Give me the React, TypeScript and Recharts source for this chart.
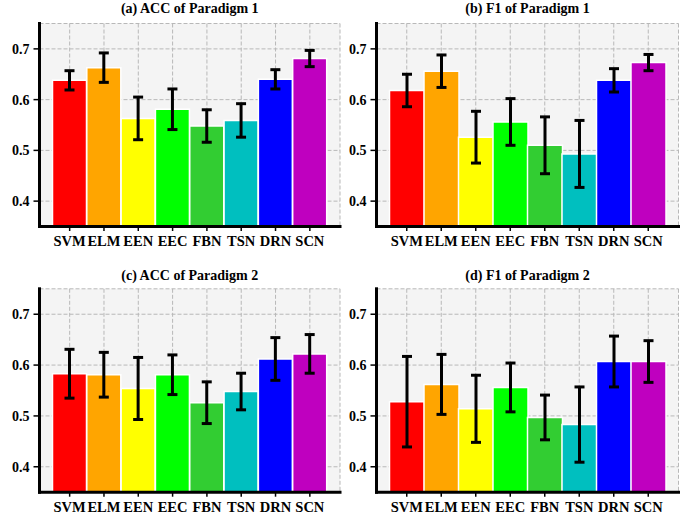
import React from 'react';
import { BarChart, Bar, XAxis, YAxis, CartesianGrid, ErrorBar, Cell } from 'recharts';

const categories = ['SVM', 'ELM', 'EEN', 'EEC', 'FBN', 'TSN', 'DRN', 'SCN'];
const barColors = ['#ff0000', '#ffa500', '#ffff00', '#00ff00', '#32cd32', '#00bfbf', '#0000ff', '#bf00bf'];

const accP1 = [0.638, 0.663, 0.563, 0.581, 0.548, 0.559, 0.640, 0.681];
const accP1Err = [0.019, 0.029, 0.042, 0.040, 0.032, 0.033, 0.019, 0.016];
const f1P1 = [0.618, 0.656, 0.526, 0.556, 0.510, 0.493, 0.638, 0.673];
const f1P1Err = [0.032, 0.032, 0.051, 0.046, 0.056, 0.066, 0.023, 0.016];
const accP2 = [0.583, 0.581, 0.554, 0.581, 0.526, 0.548, 0.612, 0.622];
const accP2Err = [0.048, 0.044, 0.061, 0.039, 0.041, 0.036, 0.042, 0.038];
const f1P2 = [0.528, 0.562, 0.514, 0.556, 0.497, 0.483, 0.607, 0.607];
const f1P2Err = [0.089, 0.059, 0.066, 0.048, 0.044, 0.074, 0.050, 0.041];

const yTicks = [0.4, 0.5, 0.6, 0.7];
const yDomain = [0.35, 0.75];

const titles = ['(a) ACC of Paradigm 1', '(b) F1 of Paradigm 1', '(c) ACC of Paradigm 2', '(d) F1 of Paradigm 2'];

const FONT = "'Liberation Serif', 'Times New Roman', Times, serif";

const build = (vals: number[], errs: number[]) =>
  categories.map((name, i) => ({ name, value: vals[i], err: errs[i] }));

const panels = [
  { title: titles[0], data: build(accP1, accP1Err), left: 0, top: 0, pl: 39.5, pt: 23.5, pr: 340, pb: 226.5, titleTop: 1 },
  { title: titles[1], data: build(f1P1, f1P1Err), left: 347, top: 0, pl: 376.5, pt: 23.5, pr: 678.5, pb: 226.5, titleTop: 1 },
  { title: titles[2], data: build(accP2, accP2Err), left: 0, top: 259, pl: 39.5, pt: 288.8, pr: 340, pb: 492.2, titleTop: 267.5 },
  { title: titles[3], data: build(f1P2, f1P2Err), left: 347, top: 259, pl: 376.5, pt: 288.8, pr: 678.5, pb: 492.2, titleTop: 267.5 },
];

const W = 347;
const H = 259;
const XH = 20;

const frameLine = { stroke: '#000', strokeWidth: 3, strokeLinecap: 'square' as const };

function Panel(p: any) {
  const yW = p.pl - p.left;
  const margin = {
    top: p.pt - p.top,
    left: 0,
    right: p.left + W - p.pr,
    bottom: p.top + H - p.pb - XH,
  };
  return (
    <>
      <div
        style={{
          position: 'absolute',
          left: p.pl,
          width: p.pr - p.pl,
          top: p.titleTop,
          textAlign: 'center',
          fontFamily: FONT,
          fontWeight: 'bold',
          fontSize: 14,
          color: '#000',
          whiteSpace: 'nowrap',
        }}
      >
        {p.title}
      </div>
      <div style={{ position: 'absolute', left: p.left, top: p.top, width: W, height: H }}>
        <BarChart width={W} height={H} data={p.data} margin={margin} barCategoryGap={0}>
          <CartesianGrid
            fill="#f4f4f4"
            stroke="#b8b8b8"
            strokeDasharray="4 2"
            strokeWidth={1}
          />
          <XAxis
            dataKey="name"
            height={XH}
            padding={{ left: 13, right: 13 }}
            interval={0}
            tickSize={4.5}
            tickMargin={5}
            axisLine={frameLine}
            tickLine={{ stroke: '#000', strokeWidth: 1.5 }}
            tick={{ fontFamily: FONT, fontWeight: 'bold', fontSize: 14.5, fill: '#000' }}
          />
          <XAxis
            xAxisId="top"
            orientation="top"
            dataKey="name"
            height={0}
            tick={false}
            tickLine={false}
            axisLine={frameLine}
          />
          <YAxis
            type="number"
            width={yW}
            domain={yDomain}
            allowDataOverflow
            ticks={yTicks}
            tickFormatter={(v: number) => v.toFixed(1)}
            tickSize={6}
            tickMargin={4}
            axisLine={frameLine}
            tickLine={{ stroke: '#000', strokeWidth: 1.5 }}
            tick={{ fontFamily: FONT, fontWeight: 'bold', fontSize: 14, fill: '#000' }}
          />
          <YAxis
            yAxisId="right"
            orientation="right"
            type="number"
            width={0}
            domain={yDomain}
            tick={false}
            tickLine={false}
            axisLine={frameLine}
          />
          <Bar dataKey="value" isAnimationActive={false} stroke="#ffffff" strokeWidth={1.5}>
            {p.data.map((d: any, i: number) => (
              <Cell key={d.name} fill={barColors[i]} />
            ))}
            <ErrorBar dataKey="err" width={5} stroke="#000" strokeWidth={3} isAnimationActive={false} />
          </Bar>
        </BarChart>
      </div>
    </>
  );
}

export default function App() {
  return (
    <div style={{ position: 'absolute', left: 0, top: 0, width: 694, height: 518, background: '#fff', overflow: 'hidden' }}>
      {panels.map((p) => (
        <Panel key={p.title} {...p} />
      ))}
    </div>
  );
}
